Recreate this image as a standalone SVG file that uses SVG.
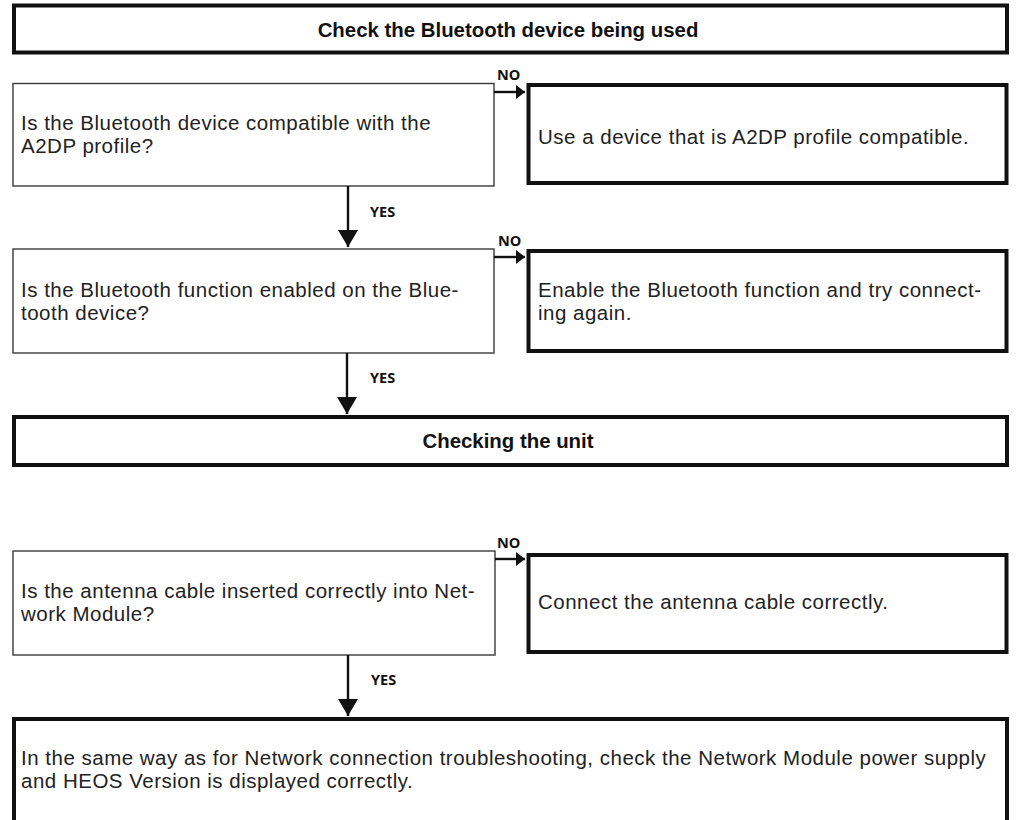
<svg xmlns="http://www.w3.org/2000/svg" width="1018" height="820" viewBox="0 0 1018 820">
<style>
.bg{fill:#fff}
.thick{fill:#fff;stroke:#111;stroke-width:4}
.thin{fill:#fff;stroke:#3a3a3a;stroke-width:1.4}
.t{font-family:"Liberation Sans",Arial,sans-serif;font-size:20.5px;letter-spacing:0.5px;fill:#222}
.h{font-family:"Liberation Sans",Arial,sans-serif;font-size:20.4px;font-weight:bold;fill:#111;text-anchor:middle}
.l{font-family:"Open Sans","Liberation Sans",sans-serif;font-size:14.5px;font-weight:bold;fill:#111}
.c{stroke:#111;stroke-width:2.4;fill:none}
</style>
<defs>
<marker id="ad" markerWidth="10" markerHeight="14" refX="9" refY="7" orient="auto" markerUnits="userSpaceOnUse" viewBox="0 0 10 14"><path d="M0,0 L9,7 L0,14 Z" fill="#111"/></marker>
<marker id="ab" markerWidth="18" markerHeight="22" refX="17" refY="11" orient="auto" markerUnits="userSpaceOnUse" viewBox="0 0 18 22"><path d="M0,1 L17,11 L0,21 Z" fill="#111"/></marker>
</defs>
<rect class="bg" width="1018" height="820"/>
<g id="n-top"><rect class="thick" x="14" y="5.5" width="993" height="47"/><text class="h" x="508" y="37">Check the Bluetooth device being used</text></g>
<g id="n-q1"><rect class="thin" x="13" y="83.5" width="481" height="102.5"/><text class="t" x="21" y="129.5">Is the Bluetooth device compatible with the</text><text class="t" x="21" y="152.5">A2DP profile?</text></g>
<g id="n-r1"><rect class="thick" x="528.5" y="85" width="478" height="98"/><text class="t" x="538" y="144">Use a device that is A2DP profile compatible.</text></g>
<g id="n-q2"><rect class="thin" x="13" y="249" width="481" height="104"/><text class="t" x="21" y="296.5">Is the Bluetooth function enabled on the Blue-</text><text class="t" x="21" y="319.5">tooth device?</text></g>
<g id="n-r2"><rect class="thick" x="528.5" y="251" width="478" height="100"/><text class="t" x="538" y="296.5">Enable the Bluetooth function and try connect-</text><text class="t" x="538" y="319.5">ing again.</text></g>
<g id="n-unit"><rect class="thick" x="14" y="417" width="993" height="48"/><text class="h" x="508" y="448">Checking the unit</text></g>
<g id="n-q3"><rect class="thin" x="13" y="551" width="482" height="104"/><text class="t" x="21" y="597.5">Is the antenna cable inserted correctly into Net-</text><text class="t" x="21" y="620.5">work Module?</text></g>
<g id="n-r3"><rect class="thick" x="528.5" y="555" width="478" height="97"/><text class="t" x="538" y="609">Connect the antenna cable correctly.</text></g>
<g id="n-end"><rect class="thick" x="14" y="719" width="993" height="112"/><text class="t" x="21" y="764.5">In the same way as for Network connection troubleshooting, check the Network Module power supply</text><text class="t" x="21" y="787.5">and HEOS Version is displayed correctly.</text></g>
<g id="connectors">
<path class="c" d="M494,92 H525" marker-end="url(#ad)"/>
<path class="c" d="M348,186 V247" marker-end="url(#ab)"/>
<path class="c" d="M494,257 H525" marker-end="url(#ad)"/>
<path class="c" d="M347,353 V414" marker-end="url(#ab)"/>
<path class="c" d="M495,559 H525" marker-end="url(#ad)"/>
<path class="c" d="M348,655 V716" marker-end="url(#ab)"/>
<text class="l" x="497" y="80">NO</text>
<text class="l" x="370" y="217">YES</text>
<text class="l" x="498" y="246">NO</text>
<text class="l" x="370" y="383">YES</text>
<text class="l" x="497" y="548">NO</text>
<text class="l" x="371" y="685">YES</text>
</g>
</svg>
